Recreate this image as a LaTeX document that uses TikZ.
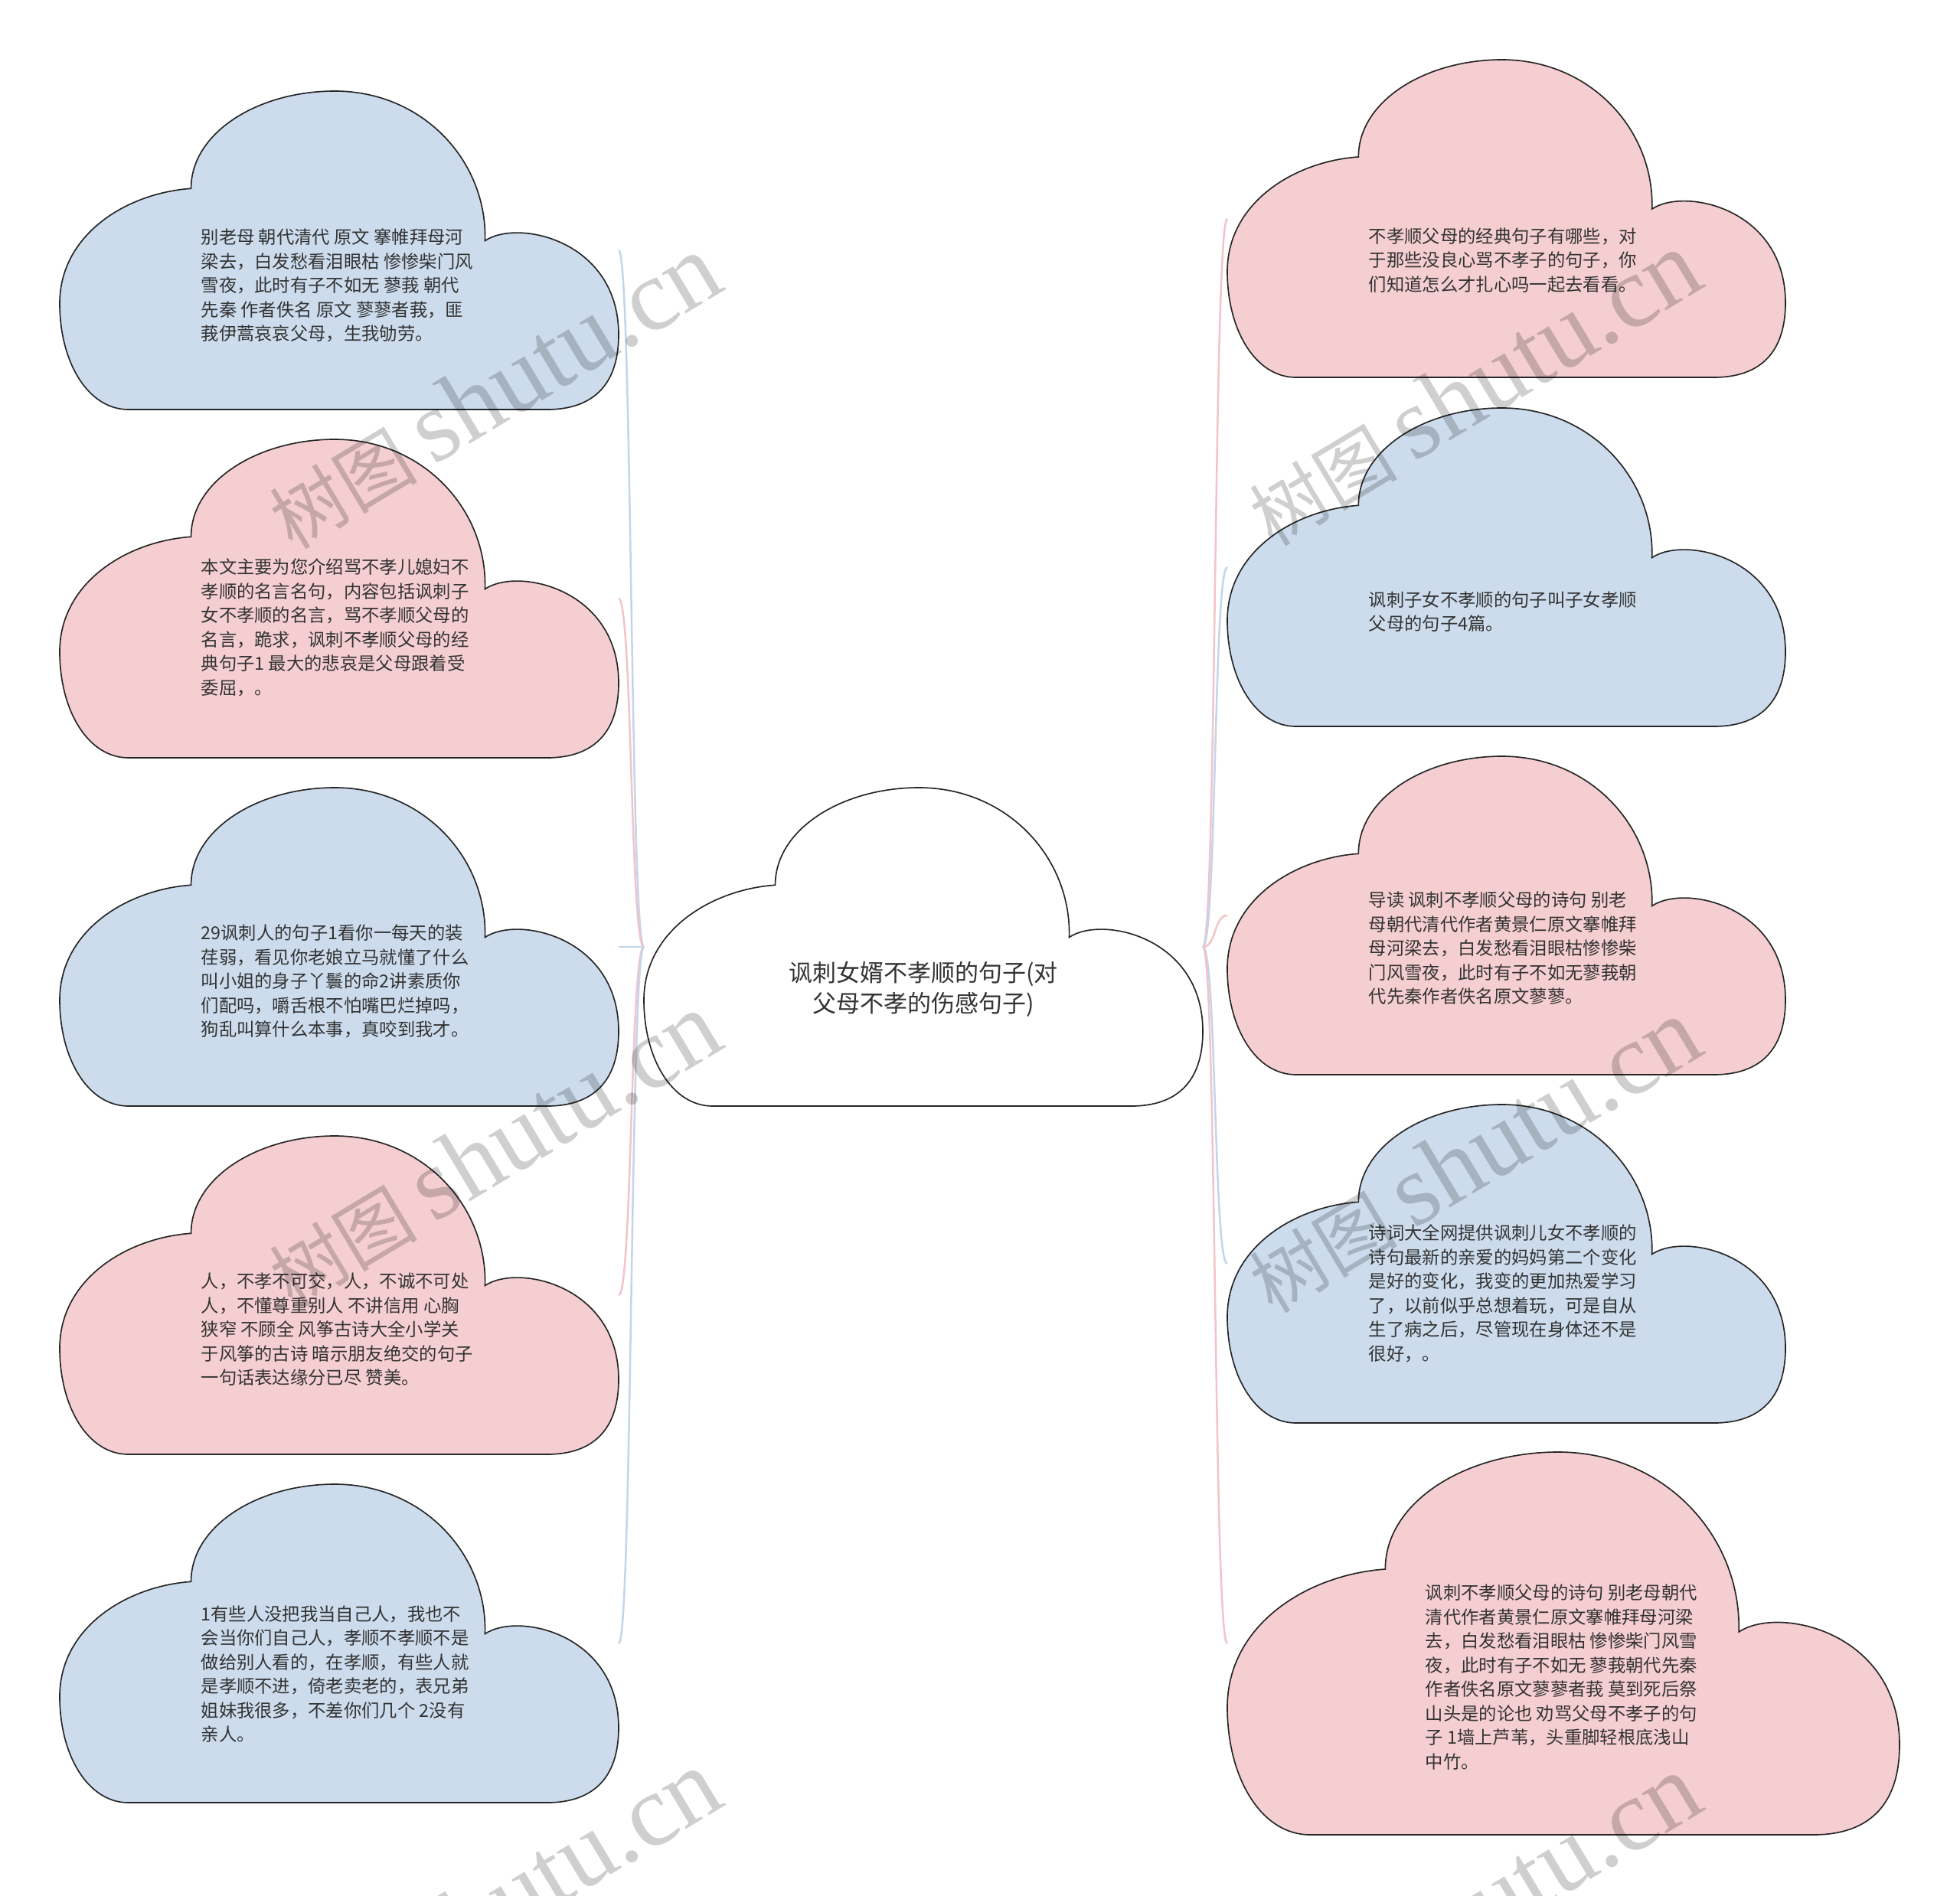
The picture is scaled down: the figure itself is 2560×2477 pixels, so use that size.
\documentclass[tikz,border=0pt]{standalone}
\usepackage{fontspec}
\setmainfont{Noto Sans CJK SC}
\newfontfamily\wmserif{Liberation Serif}
\definecolor{cblue}{RGB}{204,220,237}
\definecolor{cpink}{RGB}{245,206,209}
\definecolor{lblue}{RGB}{196,213,234}
\definecolor{lpink}{RGB}{242,196,200}
\definecolor{txt}{RGB}{51,51,51}
\tikzset{
  cloud/.pic={\path[pic actions] (0.235,0.306) .. controls (0.235,0.13) and (0.355,0) .. (0.492,0)
     .. controls (0.65,0) and (0.765,0.22) .. (0.761,0.47)
     .. controls (0.82,0.40) and (1,0.47) .. (1,0.765)
     .. controls (1,0.93) and (0.95,1) .. (0.872,1) -- (0.123,1)
     .. controls (0.05,1) and (0,0.85) .. (0,0.667)
     .. controls (0,0.45) and (0.12,0.32) .. (0.235,0.306) -- cycle;},
  cloudline/.style={draw=black!85, line width=0.5pt},
  bluecloud/.style={cloudline, fill=cblue},
  pinkcloud/.style={cloudline, fill=cpink},
  whitecloud/.style={cloudline, fill=white},
  txtnode/.style={font=\fontsize{7}{9.45}\selectfont, text=txt, align=left, inner sep=0pt, anchor=west},
  maintxt/.style={font=\fontsize{9.3}{12}\selectfont, text=txt, align=center, inner sep=0pt},
  lnblue/.style={draw=lblue, line width=0.75pt},
  lnpink/.style={draw=lpink, line width=0.75pt},
  wmark/.style={font=\fontsize{29}{34}\selectfont, text=black, opacity=0.19, rotate=31, inner sep=0pt}
}
\newcommand{\wmtext}{树图 {\wmserif\fontsize{40}{44}\selectfont shutu.cn}}
\begin{document}
\begin{tikzpicture}[x=0.3pt,y=-0.3pt]
\useasboundingbox[fill=white] (0,0) rectangle (2560,2477);
% attach points
\coordinate (cw) at (841,1237);
\coordinate (ce) at (1571,1237);
\coordinate (l1e) at (808,327);
\coordinate (l2e) at (808,782);
\coordinate (l3e) at (808,1237);
\coordinate (l4e) at (808,1692);
\coordinate (l5e) at (808,2147);
\coordinate (r1w) at (1603,286);
\coordinate (r2w) at (1603,741);
\coordinate (r3w) at (1603,1196);
\coordinate (r4w) at (1603,1651);
\coordinate (r5w) at (1603,2147);
% connectors
\draw[lnblue] (cw) .. controls +(-18,0) and +(18,0) .. (l1e);
\draw[lnpink] (cw) .. controls +(-18,0) and +(18,0) .. (l2e);
\draw[lnblue] (cw) .. controls +(-18,0) and +(18,0) .. (l3e);
\draw[lnpink] (cw) .. controls +(-18,0) and +(18,0) .. (l4e);
\draw[lnblue] (cw) .. controls +(-18,0) and +(18,0) .. (l5e);
\draw[lnpink] (ce) .. controls +(18,0) and +(-18,0) .. (r1w);
\draw[lnblue] (ce) .. controls +(18,0) and +(-18,0) .. (r2w);
\draw[lnpink] (ce) .. controls +(18,0) and +(-18,0) .. (r3w);
\draw[lnblue] (ce) .. controls +(18,0) and +(-18,0) .. (r4w);
\draw[lnpink] (ce) .. controls +(18,0) and +(-18,0) .. (r5w);
% clouds
\pic[whitecloud, xscale=730, yscale=416] at (841,1029) {cloud};
\pic[bluecloud, xscale=730, yscale=416] at (78,119) {cloud};
\pic[pinkcloud, xscale=730, yscale=416] at (78,574) {cloud};
\pic[bluecloud, xscale=730, yscale=416] at (78,1029) {cloud};
\pic[pinkcloud, xscale=730, yscale=416] at (78,1484) {cloud};
\pic[bluecloud, xscale=730, yscale=416] at (78,1939) {cloud};
\pic[pinkcloud, xscale=729, yscale=415] at (1603,78) {cloud};
\pic[bluecloud, xscale=729, yscale=416] at (1603,533) {cloud};
\pic[pinkcloud, xscale=729, yscale=416] at (1603,988) {cloud};
\pic[bluecloud, xscale=729, yscale=416] at (1603,1443) {cloud};
\pic[pinkcloud, xscale=878, yscale=500] at (1603,1897) {cloud};
% texts
\node[maintxt] (center) at (1206,1292) {讽刺女婿不孝顺的句子(对\\父母不孝的伤感句子)};
\node[txtnode] (l1) at (262,373) {别老母 朝代清代 原文 搴帷拜母河\\梁去，白发愁看泪眼枯 惨惨柴门风\\雪夜，此时有子不如无 蓼莪 朝代\\先秦 作者佚名 原文 蓼蓼者莪，匪\\莪伊蒿哀哀父母，生我劬劳。};
\node[txtnode] (l2) at (262,820) {本文主要为您介绍骂不孝儿媳妇不\\孝顺的名言名句，内容包括讽刺子\\女不孝顺的名言，骂不孝顺父母的\\名言，跪求，讽刺不孝顺父母的经\\典句子1 最大的悲哀是父母跟着受\\委屈，。};
\node[txtnode] (l3) at (262,1282) {29讽刺人的句子1看你一每天的装\\荏弱，看见你老娘立马就懂了什么\\叫小姐的身子丫鬟的命2讲素质你\\们配吗，嚼舌根不怕嘴巴烂掉吗，\\狗乱叫算什么本事，真咬到我才。};
\node[txtnode] (l4) at (262,1737) {人，不孝不可交，人，不诚不可处\\人，不懂尊重别人 不讲信用 心胸\\狭窄 不顾全 风筝古诗大全小学关\\于风筝的古诗 暗示朋友绝交的句子\\一句话表达缘分已尽 赞美。};
\node[txtnode] (l5) at (262,2187) {1有些人没把我当自己人，我也不\\会当你们自己人，孝顺不孝顺不是\\做给别人看的，在孝顺，有些人就\\是孝顺不进，倚老卖老的，表兄弟\\姐妹我很多，不差你们几个 2没有\\亲人。};
\node[txtnode] (r1) at (1787,340) {不孝顺父母的经典句子有哪些，对\\于那些没良心骂不孝子的句子，你\\们知道怎么才扎心吗一起去看看。};
\node[txtnode] (r2) at (1787,799) {讽刺子女不孝顺的句子叫子女孝顺\\父母的句子4篇。};
\node[txtnode] (r3) at (1787,1239) {导读 讽刺不孝顺父母的诗句 别老\\母朝代清代作者黄景仁原文搴帷拜\\母河梁去，白发愁看泪眼枯惨惨柴\\门风雪夜，此时有子不如无蓼莪朝\\代先秦作者佚名原文蓼蓼。};
\node[txtnode] (r4) at (1787,1690) {诗词大全网提供讽刺儿女不孝顺的\\诗句最新的亲爱的妈妈第二个变化\\是好的变化，我变的更加热爱学习\\了，以前似乎总想着玩，可是自从\\生了病之后，尽管现在身体还不是\\很好，。};
\node[txtnode] (r5) at (1861,2191) {讽刺不孝顺父母的诗句 别老母朝代\\清代作者黄景仁原文搴帷拜母河梁\\去，白发愁看泪眼枯 惨惨柴门风雪\\夜，此时有子不如无 蓼莪朝代先秦\\作者佚名原文蓼蓼者莪 莫到死后祭\\山头是的论也 劝骂父母不孝子的句\\子 1墙上芦苇，头重脚轻根底浅山\\中竹。};
% watermarks
\node[wmark] (w1) at (645,512) {\wmtext};
\node[wmark] (w2) at (645,1502) {\wmtext};
\node[wmark] (w3) at (645,2492) {\wmtext};
\node[wmark] (w4) at (1925,508) {\wmtext};
\node[wmark] (w5) at (1925,1510) {\wmtext};
\node[wmark] (w6) at (1925,2498) {\wmtext};
\end{tikzpicture}
\end{document}
